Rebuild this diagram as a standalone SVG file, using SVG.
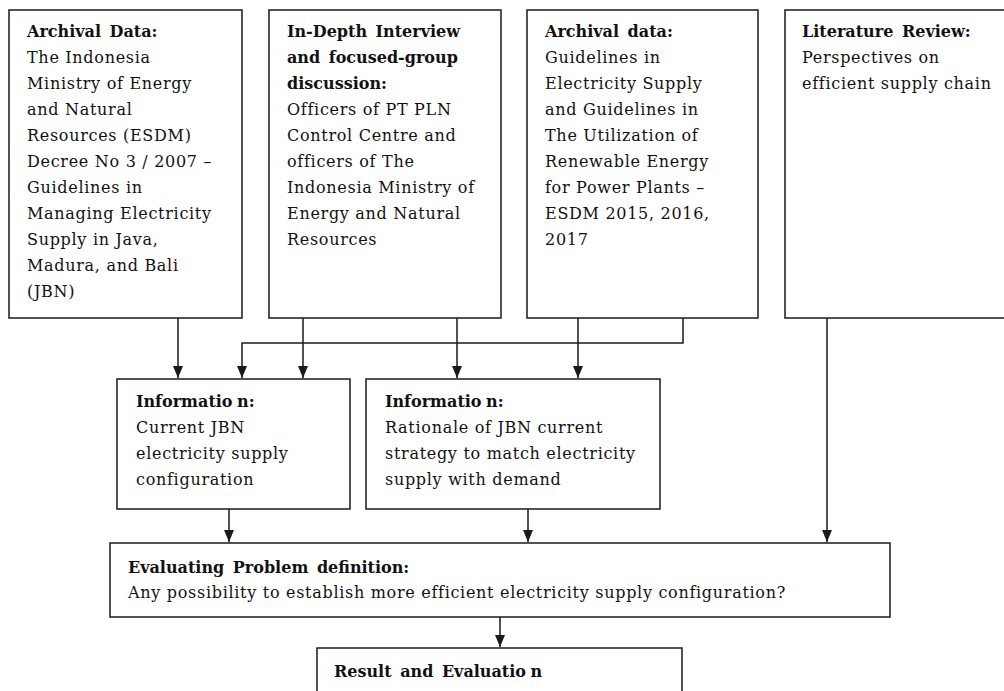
<svg xmlns="http://www.w3.org/2000/svg" width="1004" height="691" viewBox="0 0 1004 691">
<defs>
<style>
.box{fill:#fff;stroke:#1a1a1a;stroke-width:1.5}
.h{font-family:"DejaVu Serif","Liberation Serif",serif;font-weight:bold;font-size:16px;fill:#111;word-spacing:3px}
.n{word-spacing:-1px}
.t{font-family:"DejaVu Serif","Liberation Serif",serif;font-size:16px;fill:#111;letter-spacing:0.7px}
.c{fill:none;stroke:#1a1a1a;stroke-width:1.5}
</style>
<marker id="ah" viewBox="0 0 12 10" refX="12" refY="5" markerWidth="12" markerHeight="10" markerUnits="userSpaceOnUse" orient="auto">
<path d="M0,0 L12,5 L0,10 z" fill="#1a1a1a"/>
</marker>
</defs>
<rect width="1004" height="691" fill="#fff"/>

<g id="connectors">
<path class="c" d="M178,318 V378" marker-end="url(#ah)"/>
<path class="c" d="M303,318 V378" marker-end="url(#ah)"/>
<path class="c" d="M457,318 V378" marker-end="url(#ah)"/>
<path class="c" d="M578,318 V378" marker-end="url(#ah)"/>
<path class="c" d="M683,318 V343 H242 V378" marker-end="url(#ah)"/>
<path class="c" d="M827,318 V542" marker-end="url(#ah)"/>
<path class="c" d="M229,509 V542" marker-end="url(#ah)"/>
<path class="c" d="M528,509 V542" marker-end="url(#ah)"/>
<path class="c" d="M500,617 V647" marker-end="url(#ah)"/>
</g>

<g id="archival1">
<rect class="box" x="9" y="10" width="233" height="308"/>
<text class="h" x="27" y="37">Archival  Data:</text>
<text class="t" x="27" y="63">The Indonesia</text>
<text class="t" x="27" y="89">Ministry of Energy</text>
<text class="t" x="27" y="115">and Natural</text>
<text class="t" x="27" y="141">Resources (ESDM)</text>
<text class="t" x="27" y="167">Decree No 3 / 2007 –</text>
<text class="t" x="27" y="193">Guidelines in</text>
<text class="t" x="27" y="219">Managing Electricity</text>
<text class="t" x="27" y="245">Supply in Java,</text>
<text class="t" x="27" y="271">Madura, and Bali</text>
<text class="t" x="27" y="297">(JBN)</text>
</g>

<g id="interview">
<rect class="box" x="269" y="10" width="232" height="308"/>
<text class="h" x="287" y="37">In-Depth  Interview</text>
<text class="h" x="287" y="63">and  focused-group</text>
<text class="h" x="287" y="89">discussion:</text>
<text class="t" x="287" y="115">Officers of PT PLN</text>
<text class="t" x="287" y="141">Control Centre and</text>
<text class="t" x="287" y="167">officers of The</text>
<text class="t" x="287" y="193">Indonesia Ministry of</text>
<text class="t" x="287" y="219">Energy and Natural</text>
<text class="t" x="287" y="245">Resources</text>
</g>

<g id="archival2">
<rect class="box" x="527" y="10" width="231" height="308"/>
<text class="h" x="545" y="37">Archival  data:</text>
<text class="t" x="545" y="63">Guidelines in</text>
<text class="t" x="545" y="89">Electricity Supply</text>
<text class="t" x="545" y="115">and Guidelines in</text>
<text class="t" x="545" y="141">The Utilization of</text>
<text class="t" x="545" y="167">Renewable Energy</text>
<text class="t" x="545" y="193">for Power Plants –</text>
<text class="t" x="545" y="219">ESDM 2015, 2016,</text>
<text class="t" x="545" y="245">2017</text>
</g>

<g id="literature">
<rect class="box" x="785" y="10" width="230" height="308"/>
<text class="h" x="802" y="37">Literature  Review:</text>
<text class="t" x="802" y="63">Perspectives on</text>
<text class="t" x="802" y="89">efficient supply chain</text>
</g>

<g id="info1">
<rect class="box" x="117" y="379" width="233" height="130"/>
<text class="h n" x="136" y="407">Informatio n:</text>
<text class="t" x="136" y="433">Current JBN</text>
<text class="t" x="136" y="459">electricity supply</text>
<text class="t" x="136" y="485">configuration</text>
</g>

<g id="info2">
<rect class="box" x="366" y="379" width="294" height="130"/>
<text class="h n" x="385" y="407">Informatio n:</text>
<text class="t" x="385" y="433">Rationale of JBN current</text>
<text class="t" x="385" y="459">strategy to match electricity</text>
<text class="t" x="385" y="485">supply with demand</text>
</g>

<g id="evaluating">
<rect class="box" x="110" y="543" width="780" height="74"/>
<text class="h" x="128" y="573">Evaluating  Problem  definition:</text>
<text class="t" x="128" y="598">Any possibility to establish more efficient electricity supply configuration?</text>
</g>

<g id="result">
<rect class="box" x="317" y="648" width="365" height="60"/>
<text class="h" x="334" y="677">Result and Evaluatio<tspan class="n"> n</tspan></text>
</g>
</svg>
